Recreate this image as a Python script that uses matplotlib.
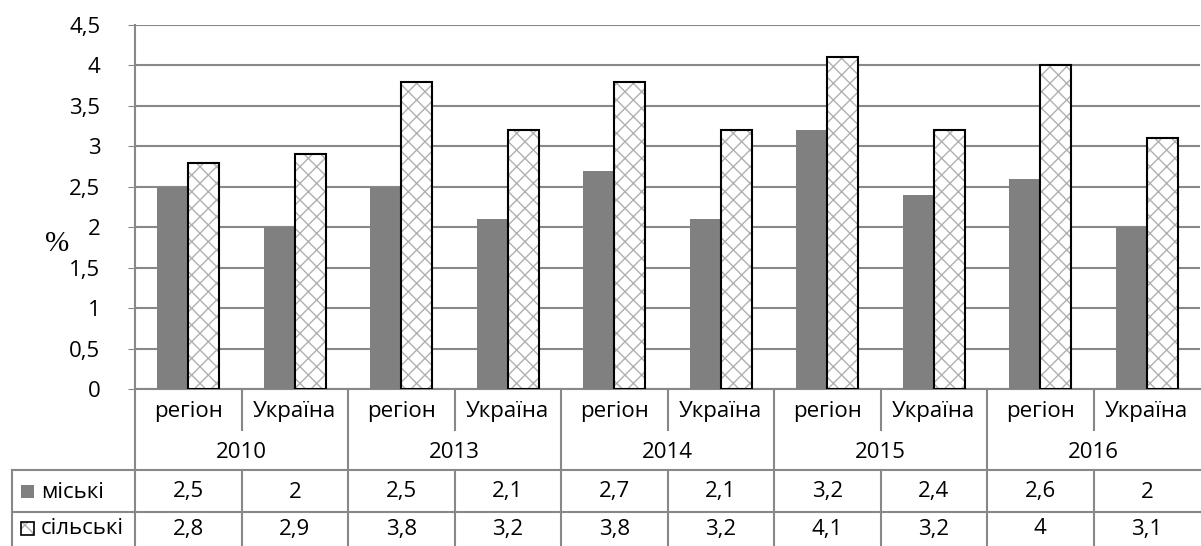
import matplotlib
matplotlib.use("Agg")
import matplotlib.pyplot as plt
import matplotlib.transforms as mtransforms
from matplotlib.patches import Rectangle

years = ["2010", "2013", "2014", "2015", "2016"]
subcats = ["регіон", "Україна"] * 5
urban = [2.5, 2.0, 2.5, 2.1, 2.7, 2.1, 3.2, 2.4, 2.6, 2.0]
rural = [2.8, 2.9, 3.8, 3.2, 3.8, 3.2, 4.1, 3.2, 4.0, 3.1]
series_names = ["міські", "сільські"]
yticks = [0, 0.5, 1, 1.5, 2, 2.5, 3, 3.5, 4, 4.5]

def fmt(v):
    return ("%g" % v).replace(".", ",")

plt.rcParams['font.family'] = ['Open Sans', 'DejaVu Sans']
plt.rcParams['hatch.linewidth'] = 1.0

W, H = 1201, 546
fig = plt.figure(figsize=(W / 100, H / 100), dpi=100)
x0p, x1p, y0p, y1p = 135, 1200, 389, 25
ax = fig.add_axes([x0p / W, 1 - y0p / H, (x1p - x0p) / W, (y0p - y1p) / H])

gridc = "#888888"
fs = 16
n = len(urban)
xs = list(range(n))
bw = 0.29
ax.bar([x - bw / 2 for x in xs], urban, width=bw, color="#808080", edgecolor="none", zorder=3)
ax.bar([x + bw / 2 for x in xs], rural, width=bw, color="white", edgecolor="#b0b0b0",
       hatch="xx", linewidth=0, zorder=3)
ax.bar([x + bw / 2 for x in xs], rural, width=bw, facecolor="none", edgecolor="black",
       linewidth=1.5, zorder=4)

ax.set_xlim(-0.5, n - 0.5)
ax.set_ylim(0, 4.5)
ax.set_yticks(yticks)
ax.set_yticklabels([fmt(v) for v in yticks], fontsize=fs)
ax.tick_params(axis='y', length=5, color=gridc, pad=20)
ax.set_xticks([])
ax.yaxis.grid(True, color=gridc, linewidth=1.5, zorder=0)
for s in ["top", "right", "bottom"]:
    ax.spines[s].set_visible(False)
ax.spines["left"].set_color(gridc)
ax.spines["left"].set_linewidth(1.5)

def xa(p):
    return (p - x0p) / (x1p - x0p)

def yf(p):
    return (y0p - p) / (y0p - y1p)

ax.text(xa(57), yf(244), "%", transform=ax.transAxes,
        fontsize=21, family=["Liberation Serif", "DejaVu Serif"], ha="center", va="center")

trans = mtransforms.blended_transform_factory(ax.transData, ax.transAxes)

lkw = dict(color=gridc, linewidth=1.5, clip_on=False, transform=trans)
ax.plot([-0.5, n - 0.5], [0, 0], **lkw)
axkw = dict(color=gridc, linewidth=1.5, clip_on=False, transform=ax.transAxes)
xl = xa(12)
for p in [470, 512]:
    ax.plot([xl, 1], [yf(p), yf(p)], **axkw)
ax.plot([xl, xl], [yf(470), yf(560)], **axkw)
ax.plot([0, 0], [0, yf(560)], **axkw)
for i in range(1, n):
    b = i - 0.5
    if i % 2 == 0:
        ax.plot([b, b], [0, yf(560)], **lkw)
    else:
        ax.plot([b, b], [0, yf(430)], **lkw)
        ax.plot([b, b], [yf(470), yf(560)], **lkw)

for i, lab in enumerate(subcats):
    ax.text(i, yf(412), lab, transform=trans, ha="center", va="center", fontsize=fs)
for j, yr in enumerate(years):
    ax.text(2 * j + 0.5, yf(452), yr, transform=trans, ha="center", va="center", fontsize=fs)
for i in range(n):
    ax.text(i, yf(492), fmt(urban[i]), transform=trans, ha="center", va="center", fontsize=fs)
    ax.text(i, yf(529), fmt(rural[i]), transform=trans, ha="center", va="center", fontsize=fs)

sq = 13 / (x1p - x0p)
sqh = 13 / (y0p - y1p)
lx = xa(21)
ax.add_patch(Rectangle((lx, yf(491) - sqh / 2), sq, sqh, transform=ax.transAxes,
                       facecolor="#808080", edgecolor="none", clip_on=False))
ax.add_patch(Rectangle((lx, yf(528) - sqh / 2), sq, sqh, transform=ax.transAxes,
                       facecolor="white", edgecolor="#b0b0b0", hatch="xx", linewidth=0,
                       clip_on=False))
ax.add_patch(Rectangle((lx, yf(528) - sqh / 2), sq, sqh, transform=ax.transAxes,
                       facecolor="none", edgecolor="black", linewidth=1.2, clip_on=False))
tx = xa(41)
ax.text(tx, yf(492), series_names[0], transform=ax.transAxes, ha="left", va="center", fontsize=fs)
ax.text(tx, yf(529), series_names[1], transform=ax.transAxes, ha="left", va="center", fontsize=fs)

fig.savefig("out.png", dpi=100)
